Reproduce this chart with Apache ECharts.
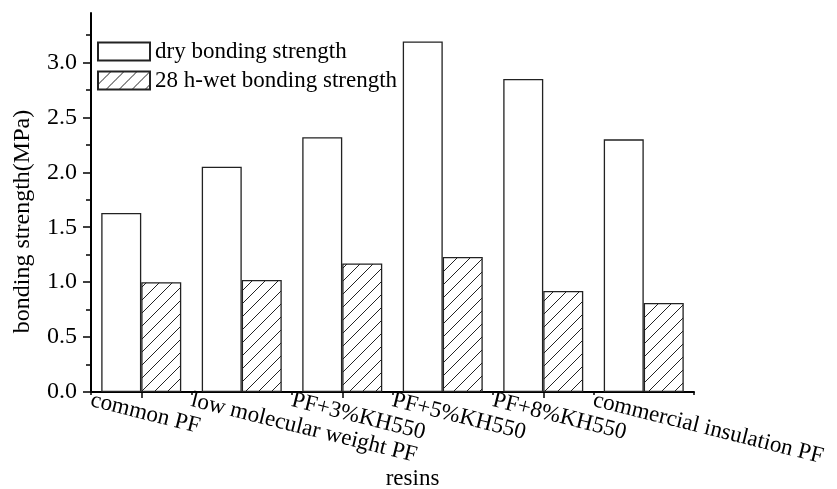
<!DOCTYPE html>
<html>
<head>
<meta charset="utf-8">
<script src="https://cdn.jsdelivr.net/npm/echarts@6/dist/echarts.min.js"></script>
<style>
html,body{margin:0;padding:0;background:#fff;}
#chart{width:837px;height:489px;}
</style>
</head>
<body>
<div id="chart"></div>
<script>
// ---- data ----
const categories = ['common PF', 'low molecular weight PF', 'PF+3%KH550', 'PF+5%KH550', 'PF+8%KH550', 'commercial insulation PF'];
const seriesNames = ['dry bonding strength', '28 h-wet bonding strength'];
const dryValues = [1.63, 2.05, 2.32, 3.19, 2.85, 2.30];
const wetValues = [1.00, 1.02, 1.17, 1.23, 0.92, 0.81];
const yTickValues = [0, 0.5, 1.0, 1.5, 2.0, 2.5, 3.0];
const xAxisTitle = 'resins';
const yAxisTitle = 'bonding strength(MPa)';

const FONT = "'Liberation Serif', 'Times New Roman', serif";

// hatch pattern
function makeHatch() {
  const s = 13;
  const c = document.createElement('canvas');
  c.width = s; c.height = s;
  const g = c.getContext('2d');
  g.fillStyle = '#fff';
  g.fillRect(0, 0, s, s);
  g.strokeStyle = '#222';
  g.lineWidth = 1;
  g.beginPath();
  g.moveTo(0, s); g.lineTo(s, 0);
  g.moveTo(-2, 2); g.lineTo(2, -2);
  g.moveTo(s - 2, s + 2); g.lineTo(s + 2, s - 2);
  g.stroke();
  return c;
}
const hatch = makeHatch();

const chart = echarts.init(document.getElementById('chart'), null, {renderer: 'canvas'});
const option = {
  animation: false,
  backgroundColor: '#fff',
  textStyle: {fontFamily: FONT, color: '#000'},
  grid: {left: 91, right: 143, top: 13, bottom: 97, containLabel: false, outerBoundsMode: 'none'},
  legend: {
    orient: 'vertical',
    left: 97, top: 40,
    padding: 0,
    itemWidth: 52, itemHeight: 18, itemGap: 6,
    icon: 'rect',
    data: seriesNames,
    textStyle: {fontFamily: FONT, fontSize: 23, color: '#000'}
  },
  xAxis: [
    {
      type: 'category',
      data: categories,
      boundaryGap: true,
      position: 'bottom',
      axisLine: {show: true, lineStyle: {color: '#000', width: 2}},
      axisTick: {show: true, alignWithLabel: true, length: 6, lineStyle: {color: '#000', width: 1.5}},
      axisLabel: {show: false},
      splitLine: {show: false},
      name: xAxisTitle,
      nameLocation: 'middle',
      nameGap: 75,
      nameTextStyle: {fontFamily: FONT, fontSize: 23, color: '#000', padding: [0, 0, 0, 40]}
    },
    {
      type: 'category',
      data: categories.concat(['']),
      boundaryGap: false,
      position: 'bottom',
      offset: 0,
      axisLine: {show: false},
      axisTick: {show: true, interval: 0, length: 3, lineStyle: {color: '#000', width: 1.5}},
      axisLabel: {
        show: true, interval: 0, rotate: -14, margin: 8,
        fontFamily: FONT, fontSize: 23, color: '#000'
      },
      splitLine: {show: false}
    }
  ],
  yAxis: {
    type: 'value',
    min: 0, max: 3.45, interval: 0.5,
    axisLine: {show: true, lineStyle: {color: '#000', width: 2}},
    axisTick: {show: true, length: 8, customValues: yTickValues, lineStyle: {color: '#000', width: 1.5}},
    minorTick: {show: true, splitNumber: 2, length: 5, lineStyle: {color: '#000', width: 1.5}},
    axisLabel: {
      customValues: yTickValues,
      margin: 14, fontFamily: FONT, fontSize: 24, color: '#000',
      formatter: v => v.toFixed(1)
    },
    splitLine: {show: false},
    minorSplitLine: {show: false},
    name: yAxisTitle,
    nameLocation: 'middle',
    nameGap: 56,
    nameRotate: 90,
    nameTextStyle: {fontFamily: FONT, fontSize: 24, color: '#000', padding: [0, 38, 0, 0]}
  },
  series: [
    {
      name: seriesNames[0],
      type: 'bar',
      xAxisIndex: 0,
      data: dryValues,
      barWidth: 40,
      barGap: '0%',
      itemStyle: {color: '#fff', borderColor: '#222', borderWidth: 1.3}
    },
    {
      name: seriesNames[1],
      type: 'bar',
      xAxisIndex: 0,
      data: wetValues,
      barWidth: 40,
      barGap: '0%',
      itemStyle: {color: {image: hatch, repeat: 'repeat'}, borderColor: '#222', borderWidth: 1.3}
    }
  ]
};
chart.setOption(option);
</script>
</body>
</html>
